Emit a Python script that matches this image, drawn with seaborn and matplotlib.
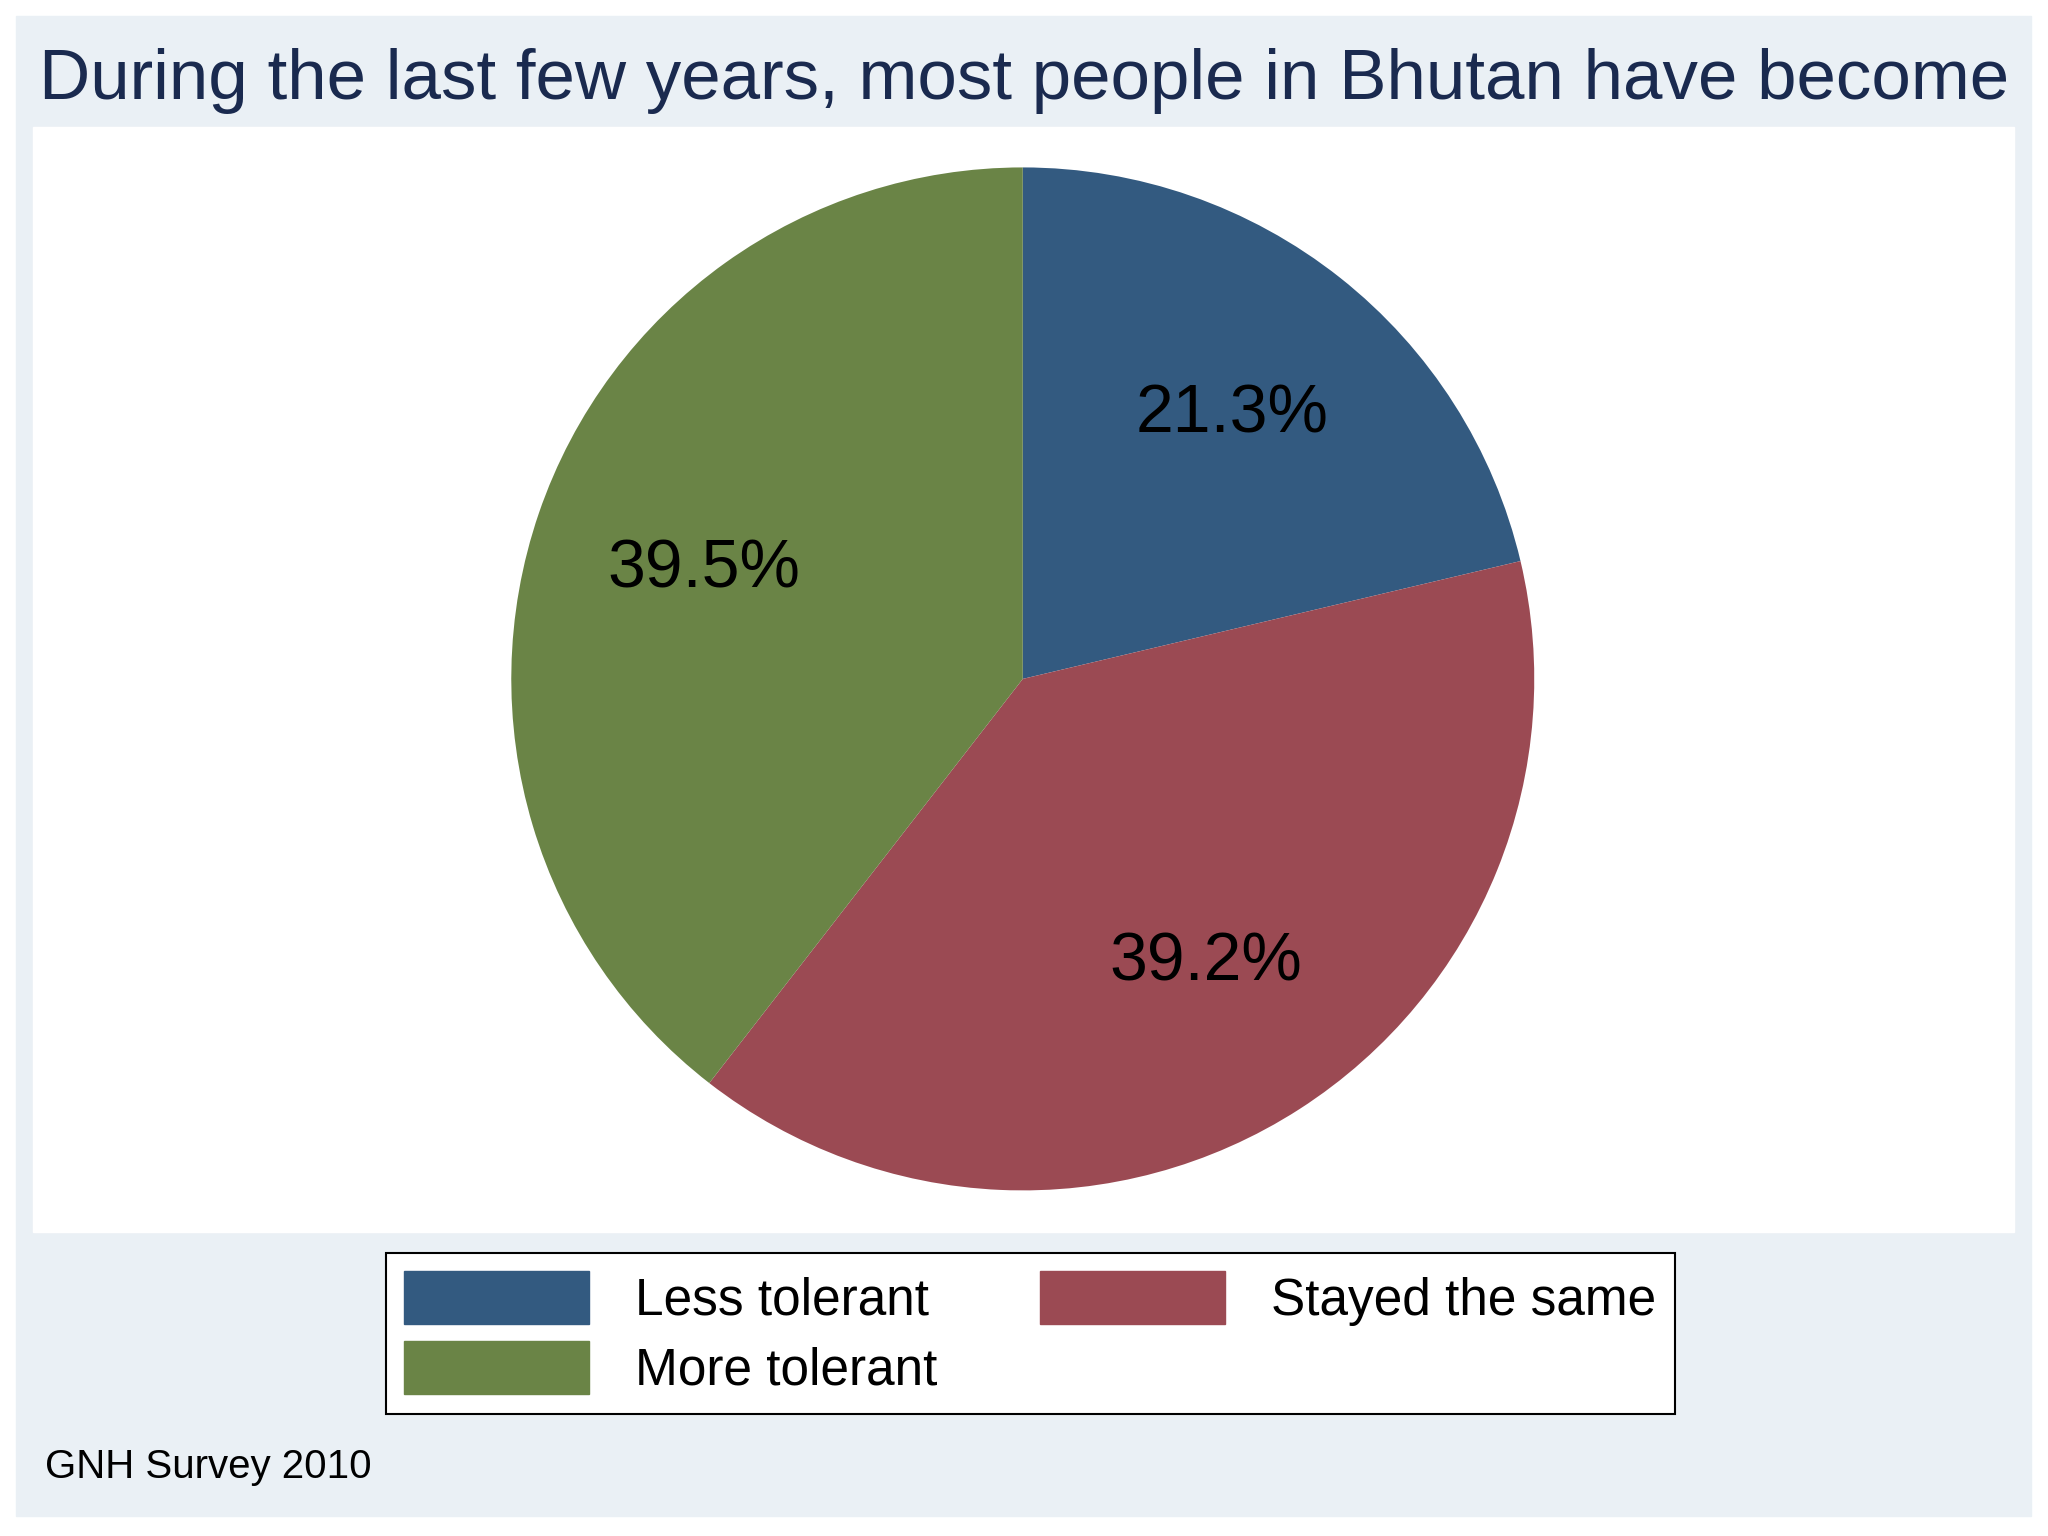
import matplotlib
matplotlib.use("Agg")
import matplotlib.pyplot as plt
import matplotlib.patches as mpatches
import seaborn as sns

# values
categories = ["Less tolerant", "Stayed the same", "More tolerant"]
shares = [21.3, 39.2, 39.5]
colors = ["#335a80", "#9b4a53", "#6a8446"]

sns.set_theme(style="white")
plt.rcParams['font.family'] = ['Liberation Sans', 'DejaVu Sans']

fig = plt.figure(figsize=(20.48, 15.36), dpi=100)
fig.patch.set_facecolor("white")

# outer light panel and white plot region
fig.add_artist(mpatches.Rectangle((0.0077, 0.013), 0.984, 0.9766,
                                  transform=fig.transFigure, color="#eaf0f5", zorder=0))
fig.add_artist(mpatches.Rectangle((0.016, 0.198), 0.9674, 0.719,
                                  transform=fig.transFigure, color="white", zorder=0))

ax = fig.add_axes([0.2494, 0.225, 0.5, 0.666])
wedges, texts, autotexts = ax.pie(shares, colors=colors, startangle=90, counterclock=False,
                                  autopct="%.1f%%", pctdistance=0.66,
                                  wedgeprops=dict(linewidth=0),
                                  textprops=dict(fontsize=49, color="black"))
ax.set_xlim(-1, 1)
ax.set_ylim(-1, 1)
ax.set_aspect("equal")
ax.axis("off")

fig.text(0.5, 0.947, "During the last few years, most people in Bhutan have become",
         ha="center", va="center", fontsize=51, color="#1a2a4f")

handles = [mpatches.Patch(color=colors[0]), mpatches.Patch(color=colors[2]),
           mpatches.Patch(color=colors[1])]
labels = [categories[0], categories[2], categories[1]]
leg = fig.legend(handles, labels, ncol=2, loc="center", bbox_to_anchor=(0.503, 0.132),
                 fontsize=37, frameon=True, fancybox=False, edgecolor="black",
                 facecolor="white", framealpha=1,
                 handlelength=3.6, handleheight=1.2, columnspacing=2.0,
                 labelspacing=0.3, borderpad=0.35, handletextpad=0.9)
leg.get_frame().set_linewidth(1.5)
for t in leg.get_texts():
    t.set_color("black")

fig.text(0.022, 0.045, "GNH Survey 2010", ha="left", va="center", fontsize=29, color="black")

fig.savefig("out.png", dpi=100)
